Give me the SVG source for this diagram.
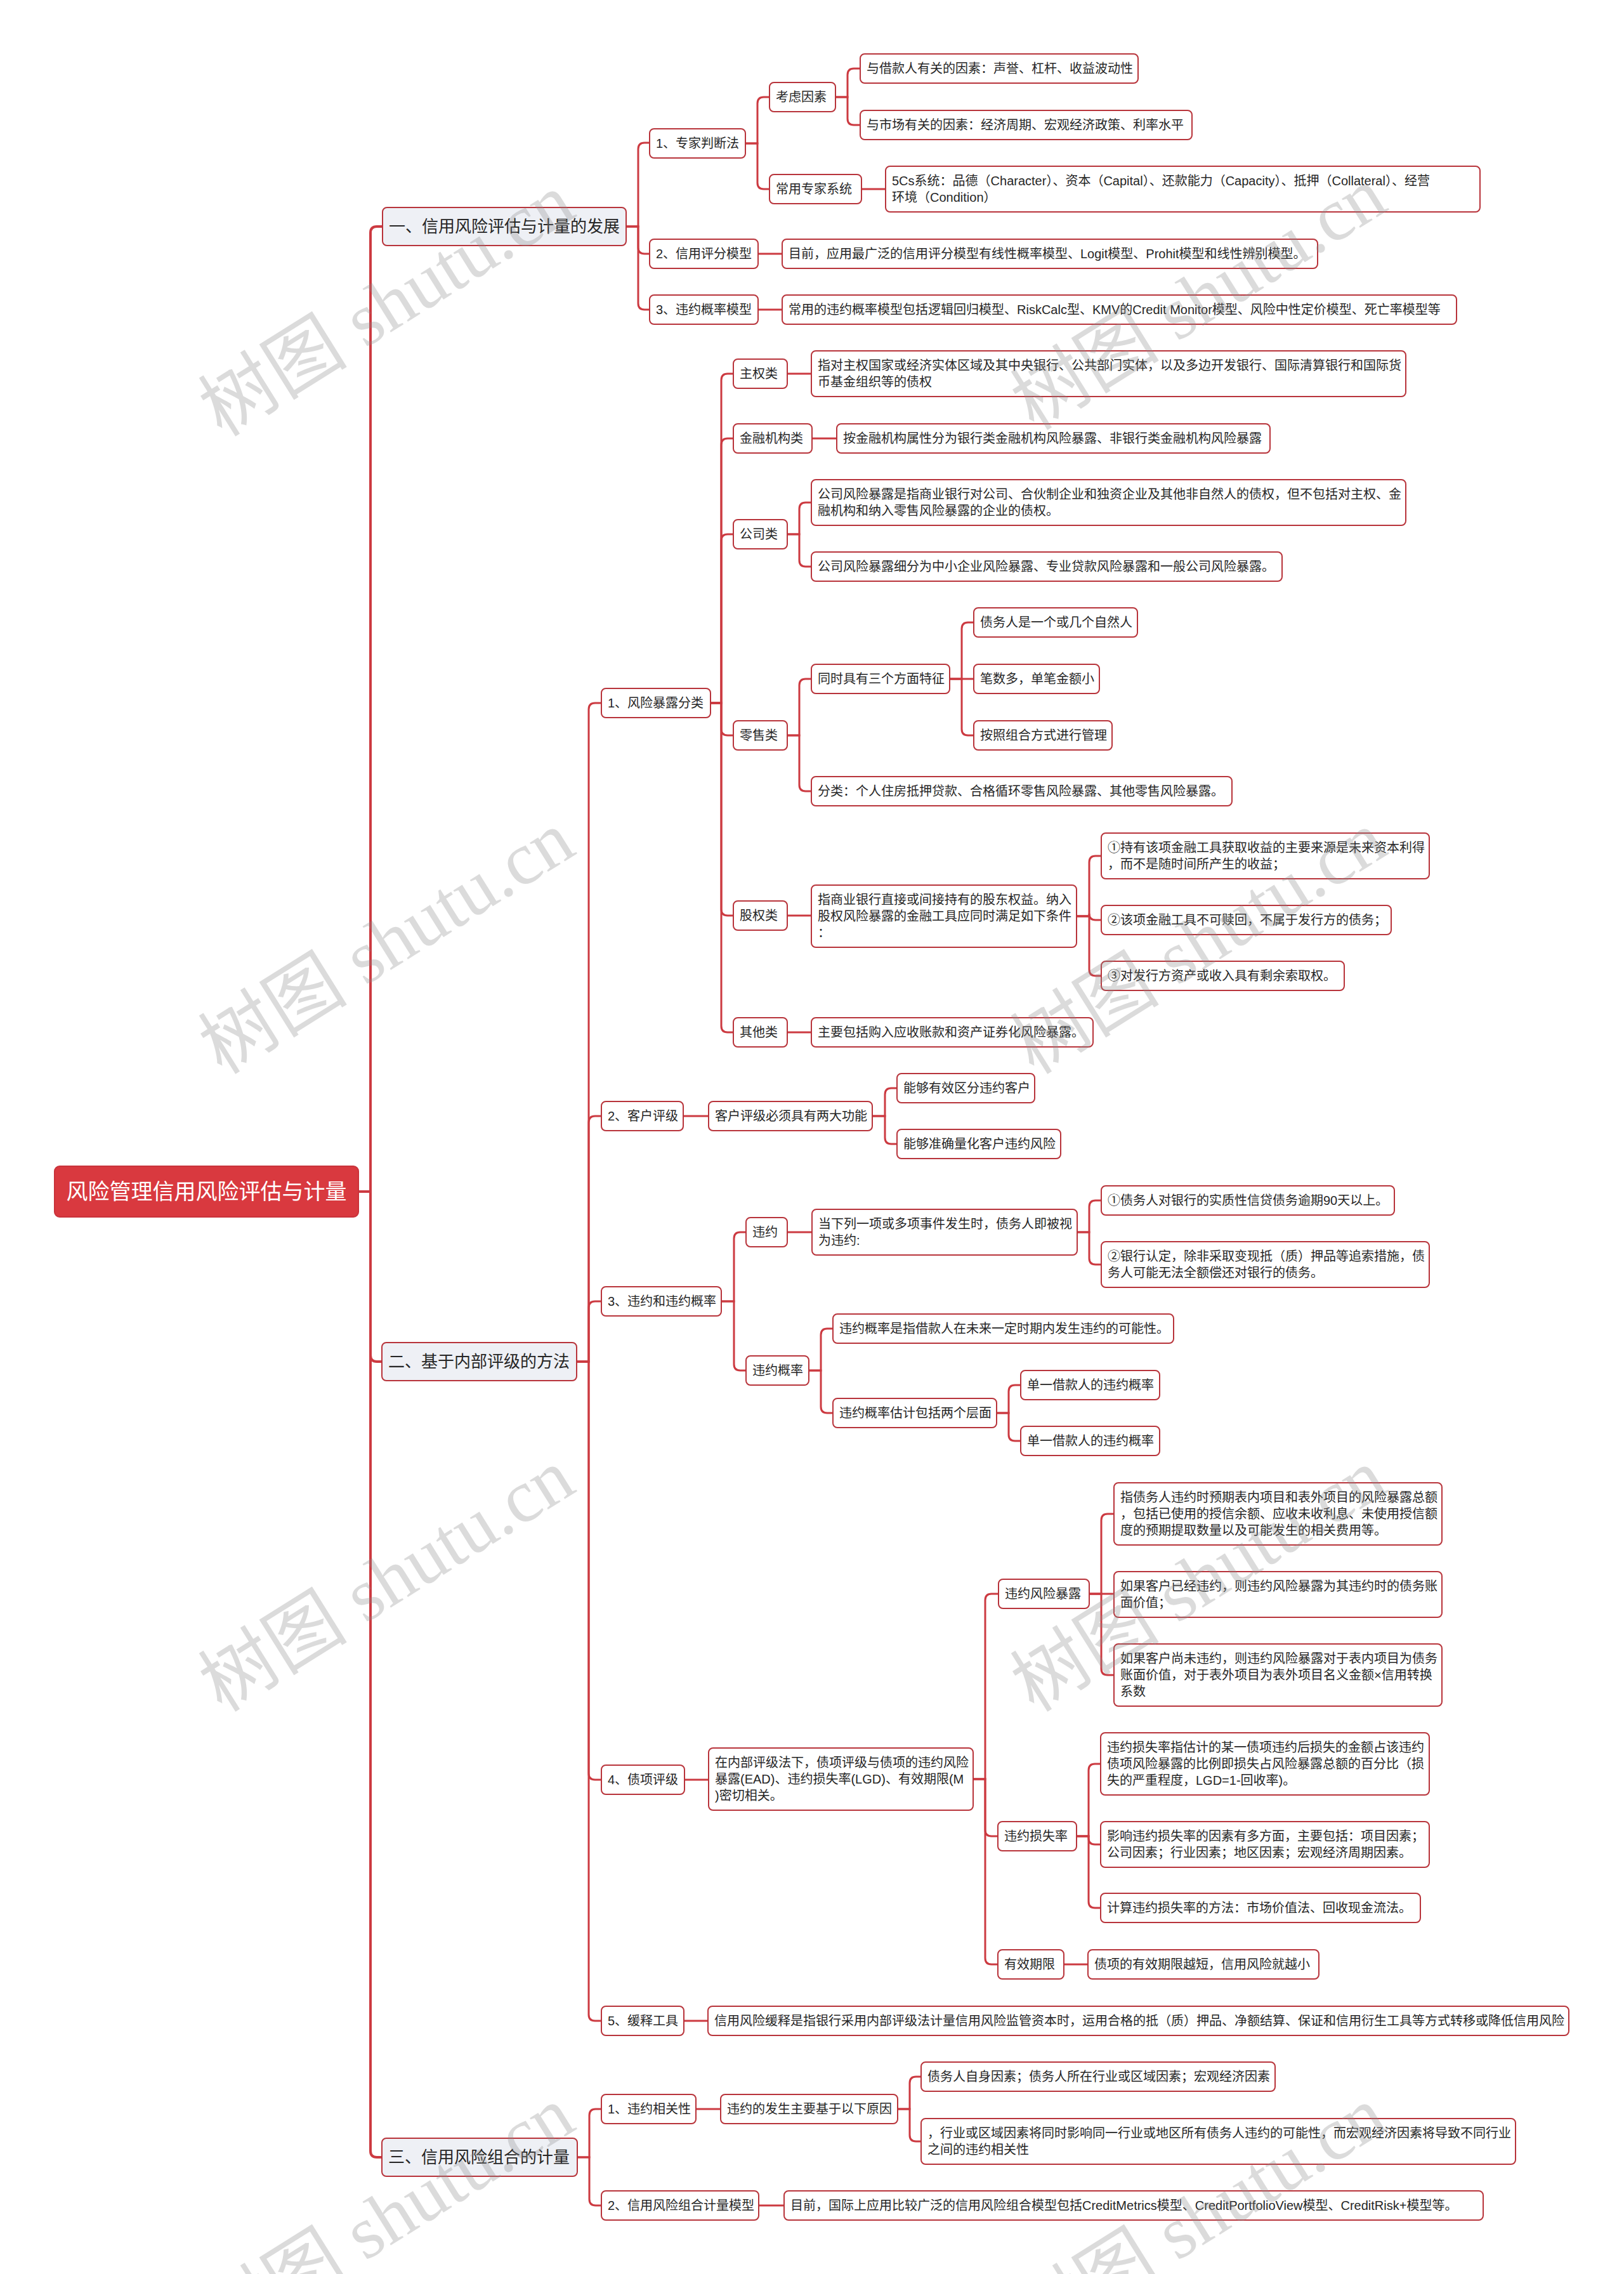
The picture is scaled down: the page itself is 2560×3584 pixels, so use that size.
<svg xmlns="http://www.w3.org/2000/svg" width="2560" height="3584" viewBox="0 0 2560 3584">
<style>
.bg{fill:#ffffff}
.n rect{fill:#ffffff;stroke:#b8343b;stroke-width:2}
.s rect{fill:#eef0f5;stroke:#b8343b;stroke-width:2}
.r rect{fill:#d9393f;stroke:#c9323a;stroke-width:2}
text{font-family:"Liberation Sans","Noto Sans CJK SC",sans-serif;font-size:20px;fill:#262626}
.s text{font-size:26px}
.r text{font-size:34px;fill:#ffffff}
.l{fill:none;stroke:#cc3a41;stroke-width:3}
.l0{fill:none;stroke:#cc3a41;stroke-width:4}
.wm{font-family:"Liberation Serif","Noto Sans CJK SC",serif;font-size:118px;fill:#8c8c8c;opacity:0.3}
</style>
<rect class="bg" x="0" y="0" width="2560" height="3584"/>
<g id="connectors">
<path class="l0" d="M565 1878 H584 V367 Q584 357 594 357 H603"/>
<path class="l0" d="M565 1878 H584 V2136 Q584 2146 594 2146 H602"/>
<path class="l0" d="M565 1878 H584 V3390 Q584 3400 594 3400 H602"/>
<path class="l" d="M987 357 H1006 V235 Q1006 225 1016 225 H1024"/>
<path class="l" d="M987 357 H1006 V390 Q1006 400 1016 400 H1024"/>
<path class="l" d="M987 357 H1006 V478 Q1006 488 1016 488 H1024"/>
<path class="l" d="M1175 226 H1194 V163 Q1194 153 1204 153 H1213"/>
<path class="l" d="M1175 226 H1194 V288 Q1194 298 1204 298 H1213"/>
<path class="l" d="M1317 153 H1336 V118 Q1336 108 1346 108 H1356"/>
<path class="l" d="M1317 153 H1336 V187 Q1336 197 1346 197 H1356"/>
<path class="l" d="M1358 298 H1396"/>
<path class="l" d="M1195 400 H1233"/>
<path class="l" d="M1195 488 H1233"/>
<path class="l" d="M909 2146 H928 V1118 Q928 1108 938 1108 H948"/>
<path class="l" d="M909 2146 H928 V1769 Q928 1759 938 1759 H948"/>
<path class="l" d="M909 2146 H928 V2061 Q928 2051 938 2051 H948"/>
<path class="l" d="M909 2146 H928 V2795 Q928 2805 938 2805 H948"/>
<path class="l" d="M909 2146 H928 V3175 Q928 3185 938 3185 H948"/>
<path class="l" d="M1120 1108 H1137 V599 Q1137 589 1147 589 H1156"/>
<path class="l" d="M1120 1108 H1137 V701 Q1137 691 1147 691 H1156"/>
<path class="l" d="M1120 1108 H1137 V852 Q1137 842 1147 842 H1156"/>
<path class="l" d="M1120 1108 H1137 V1149 Q1137 1159 1147 1159 H1156"/>
<path class="l" d="M1120 1108 H1137 V1433 Q1137 1443 1147 1443 H1156"/>
<path class="l" d="M1120 1108 H1137 V1617 Q1137 1627 1147 1627 H1156"/>
<path class="l" d="M1241 589 H1279"/>
<path class="l" d="M1280 691 H1319"/>
<path class="l" d="M1241 842 H1260 V802 Q1260 792 1270 792 H1279"/>
<path class="l" d="M1241 842 H1260 V883 Q1260 893 1270 893 H1279"/>
<path class="l" d="M1241 1159 H1260 V1080 Q1260 1070 1270 1070 H1279"/>
<path class="l" d="M1241 1159 H1260 V1237 Q1260 1247 1270 1247 H1279"/>
<path class="l" d="M1497 1070 H1516 V991 Q1516 981 1526 981 H1535"/>
<path class="l" d="M1497 1070 H1535"/>
<path class="l" d="M1497 1070 H1516 V1149 Q1516 1159 1526 1159 H1535"/>
<path class="l" d="M1241 1443 H1279"/>
<path class="l" d="M1697 1444 H1717 V1359 Q1717 1349 1727 1349 H1736"/>
<path class="l" d="M1697 1444 H1717 V1440 Q1717 1450 1727 1450 H1736"/>
<path class="l" d="M1697 1444 H1717 V1528 Q1717 1538 1727 1538 H1736"/>
<path class="l" d="M1241 1627 H1279"/>
<path class="l" d="M1077 1759 H1117"/>
<path class="l" d="M1375 1759 H1395 V1725 Q1395 1715 1405 1715 H1414"/>
<path class="l" d="M1375 1759 H1395 V1793 Q1395 1803 1405 1803 H1414"/>
<path class="l" d="M1137 2051 H1157 V1952 Q1157 1942 1167 1942 H1176"/>
<path class="l" d="M1137 2051 H1157 V2150 Q1157 2160 1167 2160 H1176"/>
<path class="l" d="M1241 1942 H1280"/>
<path class="l" d="M1698 1942 H1717 V1902 Q1717 1892 1727 1892 H1736"/>
<path class="l" d="M1698 1942 H1717 V1983 Q1717 1993 1727 1993 H1736"/>
<path class="l" d="M1275 2160 H1294 V2104 Q1294 2094 1304 2094 H1313"/>
<path class="l" d="M1275 2160 H1294 V2217 Q1294 2227 1304 2227 H1313"/>
<path class="l" d="M1571 2227 H1590 V2193 Q1590 2183 1600 2183 H1609"/>
<path class="l" d="M1571 2227 H1590 V2261 Q1590 2271 1600 2271 H1609"/>
<path class="l" d="M1079 2805 H1117"/>
<path class="l" d="M1534 2804 H1553 V2522 Q1553 2512 1563 2512 H1574"/>
<path class="l" d="M1534 2804 H1553 V2884 Q1553 2894 1563 2894 H1573"/>
<path class="l" d="M1534 2804 H1553 V3086 Q1553 3096 1563 3096 H1573"/>
<path class="l" d="M1717 2512 H1736 V2396 Q1736 2386 1746 2386 H1756"/>
<path class="l" d="M1717 2512 H1756"/>
<path class="l" d="M1717 2512 H1736 V2630 Q1736 2640 1746 2640 H1756"/>
<path class="l" d="M1697 2894 H1716 V2790 Q1716 2780 1726 2780 H1735"/>
<path class="l" d="M1697 2894 H1716 V2897 Q1716 2907 1726 2907 H1735"/>
<path class="l" d="M1697 2894 H1716 V2997 Q1716 3007 1726 3007 H1735"/>
<path class="l" d="M1677 3096 H1715"/>
<path class="l" d="M1078 3185 H1116"/>
<path class="l" d="M910 3400 H929 V3334 Q929 3324 939 3324 H948"/>
<path class="l" d="M910 3400 H929 V3466 Q929 3476 939 3476 H948"/>
<path class="l" d="M1097 3324 H1136"/>
<path class="l" d="M1415 3324 H1434 V3283 Q1434 3273 1444 3273 H1452"/>
<path class="l" d="M1415 3324 H1434 V3365 Q1434 3375 1444 3375 H1452"/>
<path class="l" d="M1196 3476 H1236"/>
</g>

<g id="root" class="r"><rect x="86" y="1838" width="479" height="80" rx="8"/><text x="325.5" y="1890" text-anchor="middle">风险管理信用风险评估与计量</text></g>

<g id="s1" class="s"><rect x="603" y="327" width="384" height="60" rx="7"/><text x="613" y="366">一、信用风险评估与计量的发展</text></g>
<g id="s2" class="s"><rect x="602" y="2116" width="307" height="60" rx="7"/><text x="612" y="2155">二、基于内部评级的方法</text></g>
<g id="s3" class="s"><rect x="602" y="3370" width="308" height="60" rx="7"/><text x="612" y="3409">三、信用风险组合的计量</text></g>

<g id="a1" class="n"><rect x="1024" y="203" width="151" height="46" rx="7"/><text x="1034" y="233">1、专家判断法</text></g>
<g id="a1a" class="n"><rect x="1213" y="130" width="104" height="46" rx="7"/><text x="1223" y="160">考虑因素</text></g>
<g id="a1a1" class="n"><rect x="1356" y="85" width="438" height="46" rx="7"/><text x="1366" y="115">与借款人有关的因素：声誉、杠杆、收益波动性</text></g>
<g id="a1a2" class="n"><rect x="1356" y="174" width="523" height="46" rx="7"/><text x="1366" y="204">与市场有关的因素：经济周期、宏观经济政策、利率水平</text></g>
<g id="a1b" class="n"><rect x="1213" y="275" width="145" height="46" rx="7"/><text x="1223" y="305">常用专家系统</text></g>
<g id="a1b1" class="n"><rect x="1396" y="262" width="937" height="72" rx="7"/><text x="1406" y="292">5Cs系统：品德（Character）、资本（Capital）、还款能力（Capacity）、抵押（Collateral）、经营</text><text x="1406" y="318">环境（Condition）</text></g>
<g id="a2" class="n"><rect x="1024" y="377" width="171" height="46" rx="7"/><text x="1034" y="407">2、信用评分模型</text></g>
<g id="a2a" class="n"><rect x="1233" y="377" width="844" height="46" rx="7"/><text x="1243" y="407">目前，应用最广泛的信用评分模型有线性概率模型、Logit模型、Prohit模型和线性辨别模型。</text></g>
<g id="a3" class="n"><rect x="1024" y="465" width="171" height="46" rx="7"/><text x="1034" y="495">3、违约概率模型</text></g>
<g id="a3a" class="n"><rect x="1233" y="465" width="1063" height="46" rx="7"/><text x="1243" y="495">常用的违约概率模型包括逻辑回归模型、RiskCalc型、KMV的Credit Monitor模型、风险中性定价模型、死亡率模型等</text></g>

<g id="b1" class="n"><rect x="948" y="1085" width="172" height="46" rx="7"/><text x="958" y="1115">1、风险暴露分类</text></g>
<g id="b1a" class="n"><rect x="1156" y="566" width="85" height="46" rx="7"/><text x="1166" y="596">主权类</text></g>
<g id="b1a1" class="n"><rect x="1279" y="553" width="937" height="72" rx="7"/><text x="1289" y="583">指对主权国家或经济实体区域及其中央银行、公共部门实体，以及多边开发银行、国际清算银行和国际货</text><text x="1289" y="609">币基金组织等的债权</text></g>
<g id="b1b" class="n"><rect x="1156" y="668" width="124" height="46" rx="7"/><text x="1166" y="698">金融机构类</text></g>
<g id="b1b1" class="n"><rect x="1319" y="668" width="683" height="46" rx="7"/><text x="1329" y="698">按金融机构属性分为银行类金融机构风险暴露、非银行类金融机构风险暴露</text></g>
<g id="b1c" class="n"><rect x="1156" y="819" width="85" height="46" rx="7"/><text x="1166" y="849">公司类</text></g>
<g id="b1c1" class="n"><rect x="1279" y="756" width="937" height="72" rx="7"/><text x="1289" y="786">公司风险暴露是指商业银行对公司、合伙制企业和独资企业及其他非自然人的债权，但不包括对主权、金</text><text x="1289" y="812">融机构和纳入零售风险暴露的企业的债权。</text></g>
<g id="b1c2" class="n"><rect x="1279" y="870" width="742" height="46" rx="7"/><text x="1289" y="900">公司风险暴露细分为中小企业风险暴露、专业贷款风险暴露和一般公司风险暴露。</text></g>
<g id="b1d" class="n"><rect x="1156" y="1136" width="85" height="46" rx="7"/><text x="1166" y="1166">零售类</text></g>
<g id="b1d1" class="n"><rect x="1279" y="1047" width="218" height="46" rx="7"/><text x="1289" y="1077">同时具有三个方面特征</text></g>
<g id="b1d1a" class="n"><rect x="1535" y="958" width="258" height="46" rx="7"/><text x="1545" y="988">债务人是一个或几个自然人</text></g>
<g id="b1d1b" class="n"><rect x="1535" y="1047" width="198" height="46" rx="7"/><text x="1545" y="1077">笔数多，单笔金额小</text></g>
<g id="b1d1c" class="n"><rect x="1535" y="1136" width="218" height="46" rx="7"/><text x="1545" y="1166">按照组合方式进行管理</text></g>
<g id="b1d2" class="n"><rect x="1279" y="1224" width="663" height="46" rx="7"/><text x="1289" y="1254">分类：个人住房抵押贷款、合格循环零售风险暴露、其他零售风险暴露。</text></g>
<g id="b1e" class="n"><rect x="1156" y="1420" width="85" height="46" rx="7"/><text x="1166" y="1450">股权类</text></g>
<g id="b1e1" class="n"><rect x="1279" y="1395" width="418" height="98" rx="7"/><text x="1289" y="1425">指商业银行直接或间接持有的股东权益。纳入</text><text x="1289" y="1451">股权风险暴露的金融工具应同时满足如下条件</text><text x="1289" y="1477">：</text></g>
<g id="b1e1a" class="n"><rect x="1736" y="1313" width="517" height="72" rx="7"/><text x="1746" y="1343">①持有该项金融工具获取收益的主要来源是未来资本利得</text><text x="1746" y="1369">，而不是随时间所产生的收益；</text></g>
<g id="b1e1b" class="n"><rect x="1736" y="1427" width="457" height="46" rx="7"/><text x="1746" y="1457">②该项金融工具不可赎回，不属于发行方的债务；</text></g>
<g id="b1e1c" class="n"><rect x="1736" y="1515" width="383" height="46" rx="7"/><text x="1746" y="1545">③对发行方资产或收入具有剩余索取权。</text></g>
<g id="b1f" class="n"><rect x="1156" y="1604" width="85" height="46" rx="7"/><text x="1166" y="1634">其他类</text></g>
<g id="b1f1" class="n"><rect x="1279" y="1604" width="444" height="46" rx="7"/><text x="1289" y="1634">主要包括购入应收账款和资产证券化风险暴露。</text></g>

<g id="b2" class="n"><rect x="948" y="1736" width="129" height="46" rx="7"/><text x="958" y="1766">2、客户评级</text></g>
<g id="b2a" class="n"><rect x="1117" y="1736" width="258" height="46" rx="7"/><text x="1127" y="1766">客户评级必须具有两大功能</text></g>
<g id="b2a1" class="n"><rect x="1414" y="1692" width="217" height="46" rx="7"/><text x="1424" y="1722">能够有效区分违约客户</text></g>
<g id="b2a2" class="n"><rect x="1414" y="1780" width="258" height="46" rx="7"/><text x="1424" y="1810">能够准确量化客户违约风险</text></g>

<g id="b3" class="n"><rect x="948" y="2028" width="189" height="46" rx="7"/><text x="958" y="2058">3、违约和违约概率</text></g>
<g id="b3a" class="n"><rect x="1176" y="1919" width="65" height="46" rx="7"/><text x="1186" y="1949">违约</text></g>
<g id="b3a1" class="n"><rect x="1280" y="1906" width="418" height="72" rx="7"/><text x="1290" y="1936">当下列一项或多项事件发生时，债务人即被视</text><text x="1290" y="1962">为违约:</text></g>
<g id="b3a1a" class="n"><rect x="1736" y="1869" width="462" height="46" rx="7"/><text x="1746" y="1899">①债务人对银行的实质性信贷债务逾期90天以上。</text></g>
<g id="b3a1b" class="n"><rect x="1736" y="1957" width="517" height="72" rx="7"/><text x="1746" y="1987">②银行认定，除非采取变现抵（质）押品等追索措施，债</text><text x="1746" y="2013">务人可能无法全额偿还对银行的债务。</text></g>
<g id="b3b" class="n"><rect x="1176" y="2137" width="99" height="46" rx="7"/><text x="1186" y="2167">违约概率</text></g>
<g id="b3b1" class="n"><rect x="1313" y="2071" width="537" height="46" rx="7"/><text x="1323" y="2101">违约概率是指借款人在未来一定时期内发生违约的可能性。</text></g>
<g id="b3b2" class="n"><rect x="1313" y="2204" width="258" height="46" rx="7"/><text x="1323" y="2234">违约概率估计包括两个层面</text></g>
<g id="b3b2a" class="n"><rect x="1609" y="2160" width="219" height="46" rx="7"/><text x="1619" y="2190">单一借款人的违约概率</text></g>
<g id="b3b2b" class="n"><rect x="1609" y="2248" width="219" height="46" rx="7"/><text x="1619" y="2278">单一借款人的违约概率</text></g>

<g id="b4" class="n"><rect x="948" y="2782" width="131" height="46" rx="7"/><text x="958" y="2812">4、债项评级</text></g>
<g id="b4a" class="n"><rect x="1117" y="2755" width="417" height="98" rx="7"/><text x="1127" y="2785">在内部评级法下，债项评级与债项的违约风险</text><text x="1127" y="2811">暴露(EAD)、违约损失率(LGD)、有效期限(M</text><text x="1127" y="2837">)密切相关。</text></g>
<g id="b4a1" class="n"><rect x="1574" y="2489" width="143" height="46" rx="7"/><text x="1584" y="2519">违约风险暴露</text></g>
<g id="b4a1a" class="n"><rect x="1756" y="2337" width="517" height="98" rx="7"/><text x="1766" y="2367">指债务人违约时预期表内项目和表外项目的风险暴露总额</text><text x="1766" y="2393">，包括已使用的授信余额、应收未收利息、未使用授信额</text><text x="1766" y="2419">度的预期提取数量以及可能发生的相关费用等。</text></g>
<g id="b4a1b" class="n"><rect x="1756" y="2477" width="517" height="72" rx="7"/><text x="1766" y="2507">如果客户已经违约，则违约风险暴露为其违约时的债务账</text><text x="1766" y="2533">面价值；</text></g>
<g id="b4a1c" class="n"><rect x="1756" y="2591" width="517" height="98" rx="7"/><text x="1766" y="2621">如果客户尚未违约，则违约风险暴露对于表内项目为债务</text><text x="1766" y="2647">账面价值，对于表外项目为表外项目名义金额×信用转换</text><text x="1766" y="2673">系数</text></g>
<g id="b4a2" class="n"><rect x="1573" y="2871" width="124" height="46" rx="7"/><text x="1583" y="2901">违约损失率</text></g>
<g id="b4a2a" class="n"><rect x="1735" y="2731" width="518" height="98" rx="7"/><text x="1745" y="2761">违约损失率指估计的某一债项违约后损失的金额占该违约</text><text x="1745" y="2787">债项风险暴露的比例即损失占风险暴露总额的百分比（损</text><text x="1745" y="2813">失的严重程度，LGD=1-回收率)。</text></g>
<g id="b4a2b" class="n"><rect x="1735" y="2871" width="518" height="72" rx="7"/><text x="1745" y="2901">影响违约损失率的因素有多方面，主要包括：项目因素；</text><text x="1745" y="2927">公司因素；行业因素；地区因素；宏观经济周期因素。</text></g>
<g id="b4a2c" class="n"><rect x="1735" y="2984" width="504" height="46" rx="7"/><text x="1745" y="3014">计算违约损失率的方法：市场价值法、回收现金流法。</text></g>
<g id="b4a3" class="n"><rect x="1573" y="3073" width="104" height="46" rx="7"/><text x="1583" y="3103">有效期限</text></g>
<g id="b4a3a" class="n"><rect x="1715" y="3073" width="364" height="46" rx="7"/><text x="1725" y="3103">债项的有效期限越短，信用风险就越小</text></g>

<g id="b5" class="n"><rect x="948" y="3162" width="130" height="46" rx="7"/><text x="958" y="3192">5、缓释工具</text></g>
<g id="b5a" class="n"><rect x="1116" y="3162" width="1357" height="46" rx="7"/><text x="1126" y="3192">信用风险缓释是指银行采用内部评级法计量信用风险监管资本时，运用合格的抵（质）押品、净额结算、保证和信用衍生工具等方式转移或降低信用风险</text></g>

<g id="c1" class="n"><rect x="948" y="3301" width="149" height="46" rx="7"/><text x="958" y="3331">1、违约相关性</text></g>
<g id="c1a" class="n"><rect x="1136" y="3301" width="279" height="46" rx="7"/><text x="1146" y="3331">违约的发生主要基于以下原因</text></g>
<g id="c1a1" class="n"><rect x="1452" y="3250" width="558" height="46" rx="7"/><text x="1462" y="3280">债务人自身因素；债务人所在行业或区域因素；宏观经济因素</text></g>
<g id="c1a2" class="n"><rect x="1452" y="3339" width="937" height="72" rx="7"/><text x="1462" y="3369">，行业或区域因素将同时影响同一行业或地区所有债务人违约的可能性，而宏观经济因素将导致不同行业</text><text x="1462" y="3395">之间的违约相关性</text></g>
<g id="c2" class="n"><rect x="948" y="3453" width="248" height="46" rx="7"/><text x="958" y="3483">2、信用风险组合计量模型</text></g>
<g id="c2a" class="n"><rect x="1236" y="3453" width="1102" height="46" rx="7"/><text x="1246" y="3483">目前，国际上应用比较广泛的信用风险组合模型包括CreditMetrics模型、CreditPortfolioView模型、CreditRisk+模型等。</text></g>

<g id="watermarks">
<text class="wm" transform="translate(350 690) rotate(-32)">树图 shutu.cn</text>
<text class="wm" transform="translate(1630 680) rotate(-32)">树图 shutu.cn</text>
<text class="wm" transform="translate(350 1695) rotate(-32)">树图 shutu.cn</text>
<text class="wm" transform="translate(1630 1695) rotate(-32)">树图 shutu.cn</text>
<text class="wm" transform="translate(350 2700) rotate(-32)">树图 shutu.cn</text>
<text class="wm" transform="translate(1630 2700) rotate(-32)">树图 shutu.cn</text>
<text class="wm" transform="translate(350 3705) rotate(-32)">树图 shutu.cn</text>
<text class="wm" transform="translate(1630 3705) rotate(-32)">树图 shutu.cn</text>
</g>
</svg>
